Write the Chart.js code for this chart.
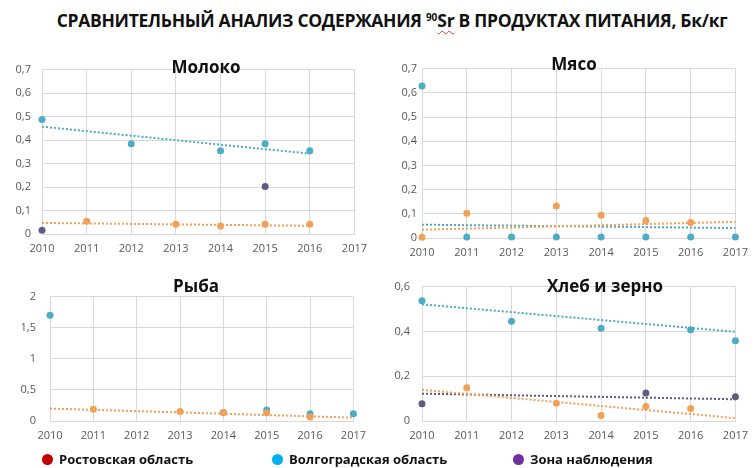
<!DOCTYPE html>
<html>
<head>
<meta charset="utf-8">
<script src="https://cdn.jsdelivr.net/npm/chart.js@4"></script>
<style>
  body { margin: 0; background: #fff; font-family: 'Open Sans', sans-serif; }
  #page { position: relative; width: 756px; height: 468px; overflow: hidden; }
  .box { position: absolute; }
  .title { position: absolute; left: 14px; width: 756px; top: 8px; text-align: center;
           font-weight: bold; font-size: 17.5px; white-space: nowrap; color: #111; letter-spacing: -0.3px; }
  .title sup { font-size: 10px; vertical-align: 6px; letter-spacing: 0; }
  .sr { text-decoration: underline wavy #d33; text-decoration-thickness: 1px; text-underline-offset: 3px; }
  .sub { position: absolute; font-weight: bold; font-size: 17px; color: #111; transform: translate(-50%, -50%); white-space: nowrap; }
  .leg { position: absolute; top: 450px; font-weight: bold; font-size: 13px; color: #111; white-space: nowrap; }
  .leg i { display: inline-block; width: 11px; height: 11px; border-radius: 50%; margin-right: 6px; vertical-align: -1px; }
</style>
</head>
<body>
<div id="page">
  <div class="title">СРАВНИТЕЛЬНЫЙ АНАЛИЗ СОДЕРЖАНИЯ <sup>90</sup><span class="sr">Sr</span> В ПРОДУКТАХ ПИТАНИЯ, Бк/кг</div>

  <div class="box" style="left:0px;top:52px;width:375px;height:213px"><canvas id="milk"></canvas></div>
  <div class="box" style="left:376px;top:57px;width:380px;height:212px"><canvas id="meat"></canvas></div>
  <div class="box" style="left:0px;top:276px;width:374px;height:176px"><canvas id="fish"></canvas></div>
  <div class="box" style="left:376px;top:268px;width:380px;height:184px"><canvas id="bread"></canvas></div>

  <div class="sub" style="left:206px;top:66px">Молоко</div>
  <div class="sub" style="left:574px;top:63px">Мясо</div>
  <div class="sub" style="left:196px;top:285px">Рыба</div>
  <div class="sub" style="left:605px;top:285px">Хлеб и зерно</div>

  <div class="leg" style="left:42px"><i style="background:#c00000"></i>Ростовская область</div>
  <div class="leg" style="left:272px"><i style="background:#00b0f0"></i>Волгоградская область</div>
  <div class="leg" style="left:513px"><i style="background:#7030a0"></i>Зона наблюдения</div>
</div>

<script>
// years on the x axis
const years = [2010, 2011, 2012, 2013, 2014, 2015, 2016, 2017];

// Молоко
const milkRostov    = [null, 0.054, null, 0.041, 0.034, 0.041, 0.041, null];
const milkVolgograd = [0.488, null, 0.384, null, 0.355, 0.384, 0.355, null];
const milkZone      = [0.016, null, null, null, null, 0.202, null, null];
const milkTrendYears = [2010, 2016];
const milkRostovTrend    = [0.047, 0.035];
const milkVolgogradTrend = [0.457, 0.342];

// Мясо
const meatRostov    = [0.003, 0.102, null, 0.132, 0.094, 0.072, 0.064, null];
const meatVolgograd = [0.628, 0.004, 0.004, 0.004, 0.004, 0.004, 0.004, 0.004];
const meatTrendYears = [2010, 2017];
const meatRostovTrend    = [0.034, 0.067];
const meatVolgogradTrend = [0.055, 0.041];

// Рыба
const fishRostov    = [null, 0.188, null, 0.153, 0.135, 0.133, 0.064, null];
const fishVolgograd = [1.70, null, null, null, 0.138, 0.178, 0.118, 0.118];
const fishTrendYears = [2010, 2017];
const fishRostovTrend = [0.20, 0.054];

// Хлеб и зерно
const breadRostov    = [null, 0.148, null, 0.079, 0.024, 0.065, 0.056, null];
const breadVolgograd = [0.537, null, 0.445, null, 0.414, null, 0.407, 0.358];
const breadZone      = [0.077, null, null, null, null, 0.125, null, 0.108];
const breadTrendYears = [2010, 2017];
const breadRostovTrend    = [0.139, 0.013];
const breadVolgogradTrend = [0.521, 0.398];
const breadZoneTrend      = [0.122, 0.097];

const ORANGE = '#f2a055';
const TEAL = '#4bacc6';
const PURPLE = '#5e5a80';
const GRID = '#d9d9d9';

Chart.defaults.font.family = "'Open Sans', sans-serif";
Chart.defaults.font.size = 11;
Chart.defaults.color = '#595959';

function pts(xs, ys) {
  return xs.map((x, i) => ({ x: x, y: ys[i] })).filter(p => p.y !== null);
}

function dots(values, color) {
  return { data: pts(years, values), backgroundColor: color, borderWidth: 0,
           pointRadius: 3.5, pointHoverRadius: 3.5, showLine: false, order: 1 };
}

function trend(xs, values, color) {
  return { data: pts(xs, values), borderColor: color, borderWidth: 2, borderDash: [2, 2],
           pointRadius: 0, showLine: true, order: 2 };
}

function makeChart(id, datasets, yMax, yStep, yWidth, yPad) {
  new Chart(document.getElementById(id), {
    type: 'scatter',
    data: { datasets: datasets.map(d => Object.assign({ clip: false }, d)) },
    options: {
      responsive: true,
      maintainAspectRatio: false,
      animation: false,
      layout: { padding: { top: 10, right: 15, left: 0, bottom: 0 } },
      plugins: { legend: { display: false }, tooltip: { enabled: false } },
      scales: {
        x: {
          type: 'linear', min: years[0], max: years[years.length - 1],
          ticks: { stepSize: 1, padding: 8, callback: v => String(v) },
          grid: { color: GRID, drawTicks: false },
          border: { color: GRID },
          afterFit: s => { s.height = 31; }
        },
        y: {
          min: 0, max: yMax,
          ticks: { stepSize: yStep, padding: yPad,
                   callback: v => String(+v.toFixed(2)).replace('.', ',') },
          grid: { color: GRID, drawTicks: false },
          border: { color: GRID },
          afterFit: s => { s.width = yWidth; }
        }
      }
    }
  });
}

makeChart('milk', [
  dots(milkRostov, ORANGE), dots(milkVolgograd, TEAL), dots(milkZone, PURPLE),
  trend(milkTrendYears, milkRostovTrend, ORANGE), trend(milkTrendYears, milkVolgogradTrend, TEAL)
], 0.7, 0.1, 42, 11);

makeChart('meat', [
  dots(meatRostov, ORANGE), dots(meatVolgograd, TEAL),
  trend(meatTrendYears, meatRostovTrend, ORANGE), trend(meatTrendYears, meatVolgogradTrend, TEAL)
], 0.7, 0.1, 46, 5);

makeChart('fish', [
  dots(fishRostov, ORANGE), dots(fishVolgograd, TEAL),
  trend(fishTrendYears, fishRostovTrend, ORANGE)
], 2, 0.5, 50, 14);

makeChart('bread', [
  dots(breadRostov, ORANGE), dots(breadVolgograd, TEAL), dots(breadZone, PURPLE),
  trend(breadTrendYears, breadRostovTrend, ORANGE), trend(breadTrendYears, breadVolgogradTrend, TEAL),
  trend(breadTrendYears, breadZoneTrend, PURPLE)
], 0.6, 0.2, 46, 12);
</script>
</body>
</html>
